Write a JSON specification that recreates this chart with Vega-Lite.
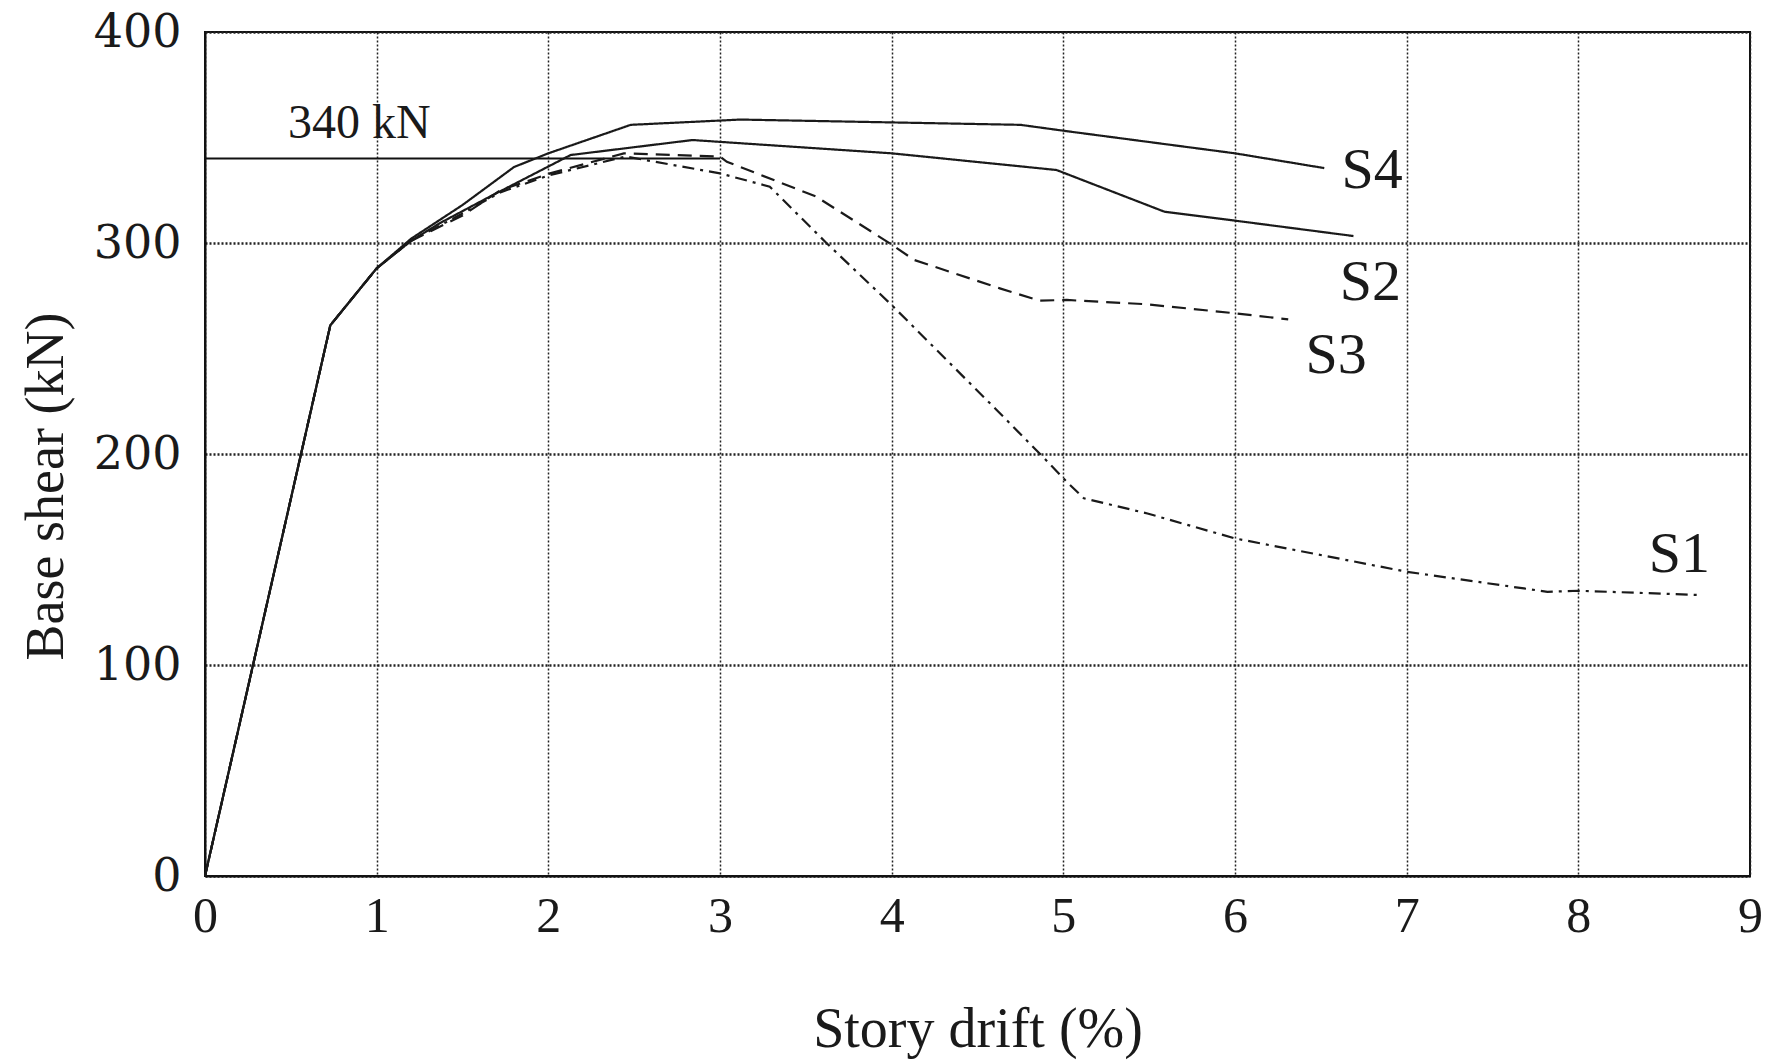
{
  "$schema": "https://vega.github.io/schema/vega-lite/v6.json",
  "width": 1545,
  "height": 844,
  "autosize": {"type": "none"},
  "padding": {"left": 205, "top": 32, "right": 23, "bottom": 186},
  "background": "white",
  "config": {
    "view": {"stroke": "#111", "strokeWidth": 2},
    "font": "Liberation Serif"
  },
  "datasets": {
    "curves": [
      {"series": "S4", "drift": 0, "shear": 0},
      {"series": "S4", "drift": 0.73, "shear": 261},
      {"series": "S4", "drift": 1.0, "shear": 288},
      {"series": "S4", "drift": 1.2, "shear": 302},
      {"series": "S4", "drift": 1.5, "shear": 318},
      {"series": "S4", "drift": 1.8, "shear": 336},
      {"series": "S4", "drift": 2.0, "shear": 342.5},
      {"series": "S4", "drift": 2.48, "shear": 356},
      {"series": "S4", "drift": 3.12, "shear": 358.5},
      {"series": "S4", "drift": 4.75, "shear": 356},
      {"series": "S4", "drift": 5.02, "shear": 353},
      {"series": "S4", "drift": 6.0, "shear": 342.5},
      {"series": "S4", "drift": 6.52, "shear": 335.5},
      {"series": "S2", "drift": 0, "shear": 0},
      {"series": "S2", "drift": 0.73, "shear": 261},
      {"series": "S2", "drift": 1.0, "shear": 288},
      {"series": "S2", "drift": 1.2, "shear": 301},
      {"series": "S2", "drift": 1.37, "shear": 309.5},
      {"series": "S2", "drift": 1.66, "shear": 322},
      {"series": "S2", "drift": 2.13, "shear": 341.7},
      {"series": "S2", "drift": 2.84, "shear": 348.8},
      {"series": "S2", "drift": 4.0, "shear": 342.5},
      {"series": "S2", "drift": 4.96, "shear": 334.6},
      {"series": "S2", "drift": 5.59, "shear": 314.8},
      {"series": "S2", "drift": 6.0, "shear": 310.6},
      {"series": "S2", "drift": 6.69, "shear": 303.3},
      {"series": "S3", "drift": 0, "shear": 0},
      {"series": "S3", "drift": 0.73, "shear": 261},
      {"series": "S3", "drift": 1.0, "shear": 288},
      {"series": "S3", "drift": 1.2, "shear": 301},
      {"series": "S3", "drift": 1.5, "shear": 313},
      {"series": "S3", "drift": 1.72, "shear": 325},
      {"series": "S3", "drift": 2.01, "shear": 333},
      {"series": "S3", "drift": 2.44, "shear": 342.5},
      {"series": "S3", "drift": 3.0, "shear": 341},
      {"series": "S3", "drift": 3.04, "shear": 338.5},
      {"series": "S3", "drift": 3.56, "shear": 322},
      {"series": "S3", "drift": 3.99, "shear": 299.8},
      {"series": "S3", "drift": 4.13, "shear": 292},
      {"series": "S3", "drift": 4.63, "shear": 278.5},
      {"series": "S3", "drift": 4.86, "shear": 272.7},
      {"series": "S3", "drift": 5.02, "shear": 273},
      {"series": "S3", "drift": 5.48, "shear": 271},
      {"series": "S3", "drift": 6.0, "shear": 266.7},
      {"series": "S3", "drift": 6.31, "shear": 263.8},
      {"series": "S1", "drift": 0, "shear": 0},
      {"series": "S1", "drift": 0.73, "shear": 261},
      {"series": "S1", "drift": 1.0, "shear": 288},
      {"series": "S1", "drift": 1.2, "shear": 301},
      {"series": "S1", "drift": 1.5, "shear": 314},
      {"series": "S1", "drift": 1.72, "shear": 324},
      {"series": "S1", "drift": 2.0, "shear": 332},
      {"series": "S1", "drift": 2.45, "shear": 341},
      {"series": "S1", "drift": 3.0, "shear": 333},
      {"series": "S1", "drift": 3.29, "shear": 326.7},
      {"series": "S1", "drift": 3.62, "shear": 300},
      {"series": "S1", "drift": 4.0, "shear": 270.6},
      {"series": "S1", "drift": 4.61, "shear": 221},
      {"series": "S1", "drift": 4.88, "shear": 198.7},
      {"series": "S1", "drift": 5.02, "shear": 186.8},
      {"series": "S1", "drift": 5.12, "shear": 179},
      {"series": "S1", "drift": 5.49, "shear": 171.8},
      {"series": "S1", "drift": 6.0, "shear": 160},
      {"series": "S1", "drift": 7.0, "shear": 144.2},
      {"series": "S1", "drift": 7.82, "shear": 134.7},
      {"series": "S1", "drift": 8.0, "shear": 135.2},
      {"series": "S1", "drift": 8.7, "shear": 133.2}
    ],
    "labels": [
      {"text": "S4", "drift": 6.62, "shear": 325.9},
      {"text": "S2", "drift": 6.61, "shear": 273},
      {"text": "S3", "drift": 6.41, "shear": 238.2},
      {"text": "S1", "drift": 8.41, "shear": 144.2}
    ],
    "refline": [{"drift": 0, "drift2": 3.0, "shear": 340}],
    "reflabel": [{"text": "340 kN", "drift": 0.483, "shear": 349.8}]
  },
  "layer": [
    {
      "data": {"name": "refline"},
      "mark": {"type": "rule", "color": "#111", "strokeWidth": 2},
      "encoding": {
        "x": {
          "field": "drift", "type": "quantitative",
          "scale": {"domain": [0, 9], "nice": false, "zero": false},
          "axis": {
            "values": [0, 1, 2, 3, 4, 5, 6, 7, 8, 9],
            "format": "d",
            "grid": true,
            "gridColor": "#222",
            "gridDash": [2, 2],
            "gridWidth": 1.5,
            "domain": true,
            "domainColor": "#111",
            "domainWidth": 2,
            "ticks": false,
            "labelFont": "Liberation Serif",
            "labelFontSize": 50,
            "labelColor": "#1a1a1a",
            "labelPadding": 15,
            "labelFlush": false,
            "labelOverlap": false,
            "title": "Story drift (%)",
            "titleFont": "Liberation Serif",
            "titleFontSize": 56,
            "titleFontWeight": "normal",
            "titleColor": "#1a1a1a",
            "titleBaseline": "alphabetic",
            "titleY": 170
          }
        },
        "x2": {"field": "drift2"},
        "y": {
          "field": "shear", "type": "quantitative",
          "scale": {"domain": [0, 400], "nice": false},
          "axis": {
            "values": [0, 100, 200, 300, 400],
            "grid": true,
            "gridColor": "#222",
            "gridDash": [2, 2],
            "gridWidth": 2.5,
            "domain": true,
            "domainColor": "#111",
            "domainWidth": 2,
            "ticks": false,
            "labelFont": "DejaVu Serif",
            "labelFontSize": 46,
            "labelColor": "#1a1a1a",
            "labelPadding": 24,
            "labelFlush": false,
            "labelOverlap": false,
            "title": "Base shear (kN)",
            "titleFont": "Liberation Serif",
            "titleFontSize": 54,
            "titleFontWeight": "normal",
            "titleColor": "#1a1a1a",
            "titleAngle": -90,
            "titleBaseline": "alphabetic",
            "titleX": -143,
            "titleY": 454,
            "titleAlign": "center"
          }
        }
      }
    },
    {
      "data": {"name": "curves"},
      "mark": {"type": "line", "color": "#1a1a1a", "strokeWidth": 2.2},
      "encoding": {
        "x": {"field": "drift", "type": "quantitative"},
        "y": {"field": "shear", "type": "quantitative"},
        "detail": {"field": "series", "type": "nominal"},
        "strokeDash": {
          "field": "series", "type": "nominal",
          "scale": {"domain": ["S4", "S2", "S3", "S1"], "range": [[1, 0], [1, 0], [14, 8], [12, 6, 3, 6]]},
          "legend": null
        },
        "order": {"field": "drift", "type": "quantitative"}
      }
    },
    {
      "data": {"name": "labels"},
      "mark": {"type": "text", "font": "Liberation Serif", "fontSize": 58, "align": "left", "baseline": "alphabetic", "color": "#1a1a1a"},
      "encoding": {
        "x": {"field": "drift", "type": "quantitative"},
        "y": {"field": "shear", "type": "quantitative"},
        "text": {"field": "text", "type": "nominal"}
      }
    },
    {
      "data": {"name": "reflabel"},
      "mark": {"type": "text", "font": "Liberation Serif", "fontSize": 48, "align": "left", "baseline": "alphabetic", "color": "#1a1a1a"},
      "encoding": {
        "x": {"field": "drift", "type": "quantitative"},
        "y": {"field": "shear", "type": "quantitative"},
        "text": {"field": "text", "type": "nominal"}
      }
    }
  ]
}
